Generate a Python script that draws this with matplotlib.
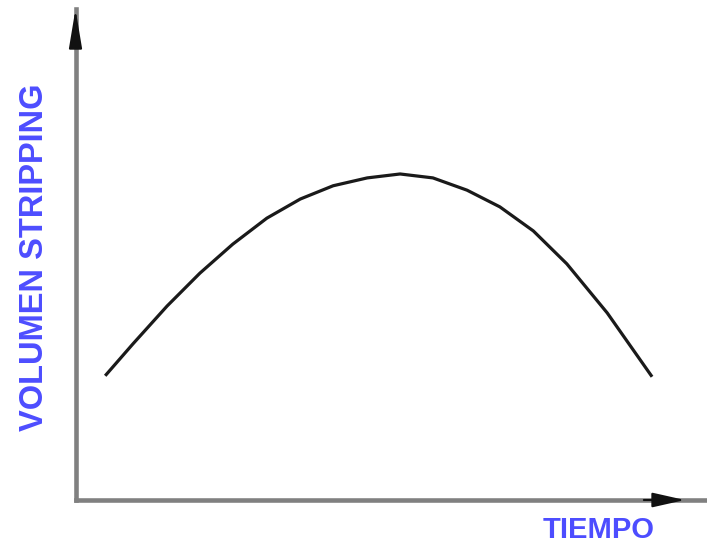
import matplotlib
matplotlib.use("Agg")
import matplotlib.pyplot as plt


# ---------------------------------------------------
# DATA
# ---------------------------------------------------

tiempo = [0.47, 0.91, 1.45, 1.97, 2.49, 3.03, 3.56, 4.08, 4.62,
          5.14, 5.66, 6.20, 6.72, 7.25, 7.78, 8.42, 9.13]
volumen = [2.53, 3.18, 3.95, 4.62, 5.21, 5.74, 6.13, 6.40, 6.56,
           6.64, 6.56, 6.31, 5.97, 5.48, 4.81, 3.81, 2.51]

x_label = "TIEMPO"
y_label = "VOLUMEN STRIPPING"

label_color = "#4d4dff"
axis_color = "#808080"


# ---------------------------------------------------
# FIGURE
# ---------------------------------------------------

W, H = 707, 544
fig = plt.figure(figsize=(W / 100, H / 100), dpi=100)

left_px, right_px = 75.5, 707
bottom_px, top_px = 500, 9

ax = fig.add_axes([
    left_px / W,
    1 - bottom_px / H,
    (right_px - left_px) / W,
    (bottom_px - top_px) / H,
])

ax.plot(tiempo, volumen, color="#1a1a1a", linewidth=2.3,
        solid_capstyle="butt", solid_joinstyle="round")

ax.set_xlim(0, 10)
ax.set_ylim(0, 10)
ax.set_xticks([])
ax.set_yticks([])

for side in ["top", "right"]:
    ax.spines[side].set_visible(False)
for side in ["left", "bottom"]:
    ax.spines[side].set_color(axis_color)
    ax.spines[side].set_linewidth(3.3)

# arrow heads on the axes
ax.annotate(
    "", xy=(0, 1.0), xytext=(0, 0.93),
    xycoords="axes fraction",
    arrowprops=dict(arrowstyle="-|>,head_length=24,head_width=4",
                    mutation_scale=1, color="#111111", lw=1.5,
                    shrinkA=0, shrinkB=0),
    annotation_clip=False,
)
ax.annotate(
    "", xy=(0.965, 0), xytext=(0.90, 0),
    xycoords="axes fraction",
    arrowprops=dict(arrowstyle="-|>,head_length=20,head_width=4.5",
                    mutation_scale=1, color="#111111", lw=1.5,
                    shrinkA=0, shrinkB=0),
    annotation_clip=False,
)

# axis titles
fig.text(35 / W, 1 - 257 / H, y_label, rotation=90,
         ha="center", va="center", fontsize=23.5, fontweight="bold",
         family="Liberation Sans", color=label_color)

fig.text(599 / W, 1 - 538 / H, x_label,
         ha="center", va="baseline", fontsize=21, fontweight="bold",
         family="Liberation Sans", color=label_color)

fig.savefig("out.png", dpi=100)
